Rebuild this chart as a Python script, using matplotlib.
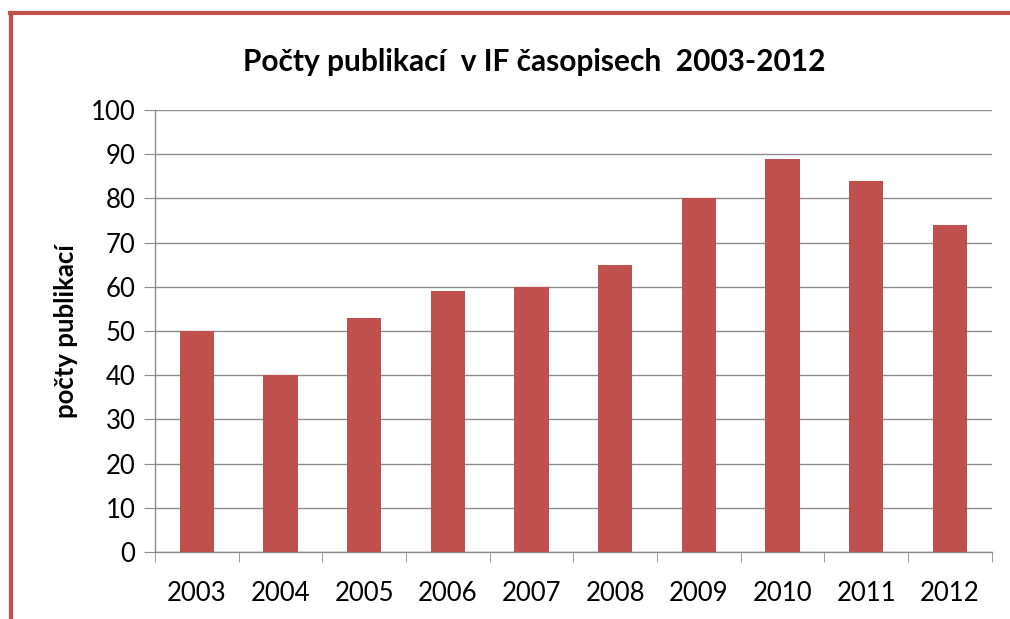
import numpy as np
import matplotlib.pyplot as plt
from matplotlib.lines import Line2D

# data
years = ['2003', '2004', '2005', '2006', '2007', '2008', '2009', '2010', '2011', '2012']
counts = [50, 40, 53, 59, 60, 65, 80, 89, 84, 74]

BAR_COLOR = '#C0504D'
GRID_COLOR = '#8C8C8C'

plt.rcParams['font.family'] = ['Lato', 'DejaVu Sans']

fig = plt.figure(figsize=(10.1, 6.19), dpi=100)
ax = fig.add_axes([0.1535, 0.1082, 0.8285, 0.7141])

x = np.arange(len(years))
ax.bar(x, counts, width=0.41, color=BAR_COLOR, zorder=3)

ax.set_xlim(-0.5, len(years) - 0.5)
ax.set_ylim(0, 100)
ax.set_yticks(np.arange(0, 101, 10))
ax.set_xticks(x)
ax.set_xticklabels(years)
ax.set_xticks(np.arange(-0.5, len(years), 1), minor=True)

ax.tick_params(axis='y', labelsize=18.5, length=8, color=GRID_COLOR, pad=6)
ax.tick_params(axis='x', which='major', labelsize=18.5, length=0, pad=21)
ax.tick_params(axis='x', which='minor', length=7, color=GRID_COLOR)

ax.yaxis.grid(True, color=GRID_COLOR, linewidth=1.0, zorder=0)
for s in ['top', 'right']:
    ax.spines[s].set_visible(False)
for s in ['left', 'bottom']:
    ax.spines[s].set_color(GRID_COLOR)
    ax.spines[s].set_linewidth(1.0)

ax.set_ylabel('počty publikací', fontsize=18.5, fontweight='bold', labelpad=9)
fig.text(0.529, 0.9, 'Počty publikací  v IF časopisech  2003-2012',
         ha='center', va='center', fontsize=21.5, fontweight='bold')

# red frame (left and top edges)
fig.add_artist(Line2D([0.0105, 0.0105], [0.0, 0.979], transform=fig.transFigure,
                      color=BAR_COLOR, linewidth=3))
fig.add_artist(Line2D([0.0095, 1.0], [0.979, 0.979], transform=fig.transFigure,
                      color=BAR_COLOR, linewidth=3))

fig.savefig('out.png', dpi=100)
